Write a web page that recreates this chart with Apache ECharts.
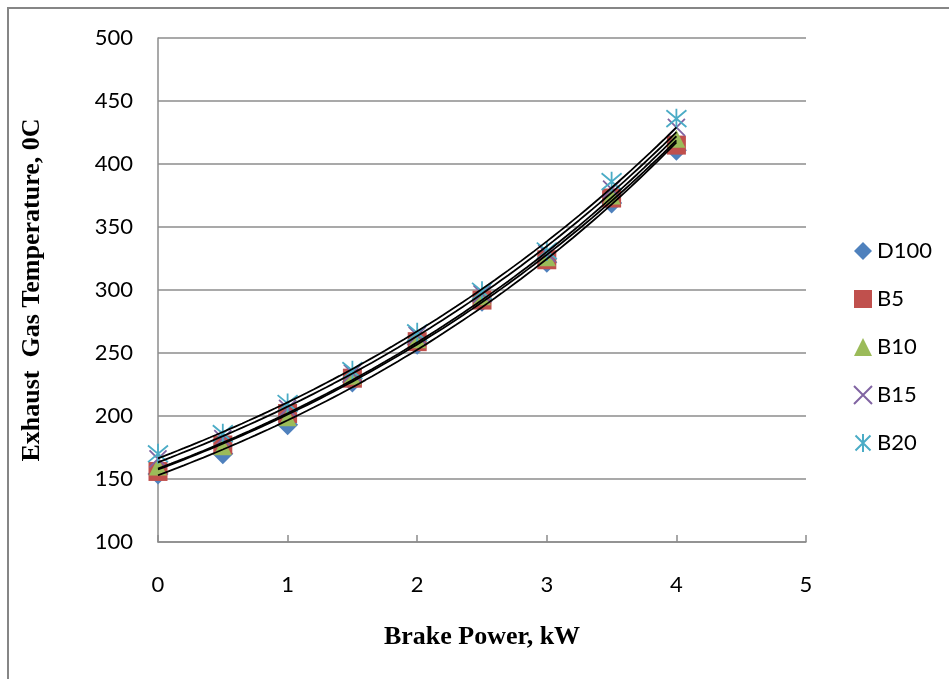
<!DOCTYPE html>
<html>
<head>
<meta charset="utf-8">
<script src="https://cdn.jsdelivr.net/npm/echarts@6/dist/echarts.min.js"></script>
<style>
html,body{margin:0;padding:0;background:#fff;}
#c{width:949px;height:679px;}
</style>
</head>
<body>
<div id="c"></div>
<script>
const brakePower = [0, 0.5, 1, 1.5, 2, 2.5, 3, 3.5, 4];
const seriesNames = ['D100', 'B5', 'B10', 'B15', 'B20'];
const D100 = [154, 170, 193, 227, 257, 291, 322, 369, 411];
const B5   = [156, 177, 202, 230, 259, 292, 324, 373, 415];
const B10  = [160, 176, 199, 232, 261, 295, 326, 375, 420];
const B15  = [166, 182, 206, 234, 264, 297, 329, 380, 429];
const B20  = [170, 186, 210, 236, 266, 299, 331, 386, 436];
const xTicks = [0, 1, 2, 3, 4, 5];
const yTicks = [100, 150, 200, 250, 300, 350, 400, 450, 500];

const values = [D100, B5, B10, B15, B20];
const colors = ['#4F81BD', '#C0504D', '#9BBB59', '#8064A2', '#4BACC6'];
const symbols = [
  'diamond',
  'rect',
  'triangle',
  'path://M0,0L10,10M10,0L0,10',
  'path://M0,0L10,10M10,0L0,10M5,-1L5,11'
];
const sizes = [21, 19, 18, 17, 20];

// Exponential least-squares trendline (as Excel "exponential trendline")
function expFit(xs, ys) {
  const n = xs.length;
  let mx = 0, my = 0;
  for (let i = 0; i < n; i++) { mx += xs[i]; my += Math.log(ys[i]); }
  mx /= n; my /= n;
  let sxy = 0, sxx = 0;
  for (let i = 0; i < n; i++) {
    sxy += (xs[i] - mx) * (Math.log(ys[i]) - my);
    sxx += (xs[i] - mx) * (xs[i] - mx);
  }
  const b = sxy / sxx;
  const a = Math.exp(my - b * mx);
  const pts = [];
  const x0 = xs[0], x1 = xs[n - 1];
  for (let k = 0; k <= 80; k++) {
    const x = x0 + (x1 - x0) * k / 80;
    pts.push([x, a * Math.exp(b * x)]);
  }
  return pts;
}

const series = [];
values.forEach((vals, i) => {
  const isLine = i >= 3;
  series.push({
    name: seriesNames[i],
    type: 'scatter',
    symbol: symbols[i],
    symbolSize: sizes[i],
    data: brakePower.map((x, j) => [x, vals[j]]),
    itemStyle: isLine
      ? { color: 'rgba(0,0,0,0)', borderColor: colors[i], borderWidth: 1.8, opacity: 1 }
      : { color: colors[i], opacity: 1 },
    z: 2 + i
  });
});
values.forEach((vals, i) => {
  series.push({
    name: seriesNames[i] + ' trend',
    type: 'line',
    data: expFit(brakePower, vals),
    showSymbol: false,
    symbol: 'none',
    lineStyle: { color: '#000', width: 1.8 },
    silent: true,
    z: 10
  });
});

const chart = echarts.init(document.getElementById('c'), null, { renderer: 'canvas' });
chart.setOption({
  animation: false,
  backgroundColor: '#fff',
  graphic: [{
    type: 'rect',
    shape: { x: 8, y: 8, width: 1200, height: 1200 },
    style: { fill: 'none', stroke: '#868686', lineWidth: 2 },
    silent: true
  }],
  grid: { left: 158, top: 38, width: 648, height: 504 },
  legend: {
    orient: 'vertical',
    left: 848,
    top: 235,
    itemWidth: 18,
    itemHeight: 18,
    itemGap: 26,
    data: seriesNames,
    textStyle: { fontFamily: 'Lato', fontSize: 22, color: '#000' }
  },
  xAxis: {
    type: 'value',
    min: xTicks[0],
    max: xTicks[xTicks.length - 1],
    interval: 1,
    name: 'Brake Power, kW',
    nameLocation: 'middle',
    nameGap: 82,
    nameTextStyle: { fontFamily: 'Liberation Serif', fontWeight: 'bold', fontSize: 26, color: '#000' },
    axisLine: { show: true, lineStyle: { color: '#8c8c8c', width: 1.5 } },
    axisTick: { show: true, inside: true, length: 7, lineStyle: { color: '#8c8c8c', width: 1.5 } },
    axisLabel: { margin: 32, fontFamily: 'Lato', fontSize: 22, color: '#000' },
    splitLine: { show: false }
  },
  yAxis: {
    type: 'value',
    min: yTicks[0],
    max: yTicks[yTicks.length - 1],
    interval: 50,
    name: 'Exhaust  Gas Temperature, 0C',
    nameLocation: 'middle',
    nameGap: 113,
    nameTextStyle: { fontFamily: 'Liberation Serif', fontWeight: 'bold', fontSize: 26, color: '#000' },
    axisLine: { show: true, lineStyle: { color: '#8c8c8c', width: 1.5 } },
    axisTick: { show: false },
    axisLabel: { margin: 25, fontFamily: 'Lato', fontSize: 22, color: '#000' },
    splitLine: { show: true, lineStyle: { color: '#8c8c8c', width: 1.5 } }
  },
  series: series
});
</script>
</body>
</html>
